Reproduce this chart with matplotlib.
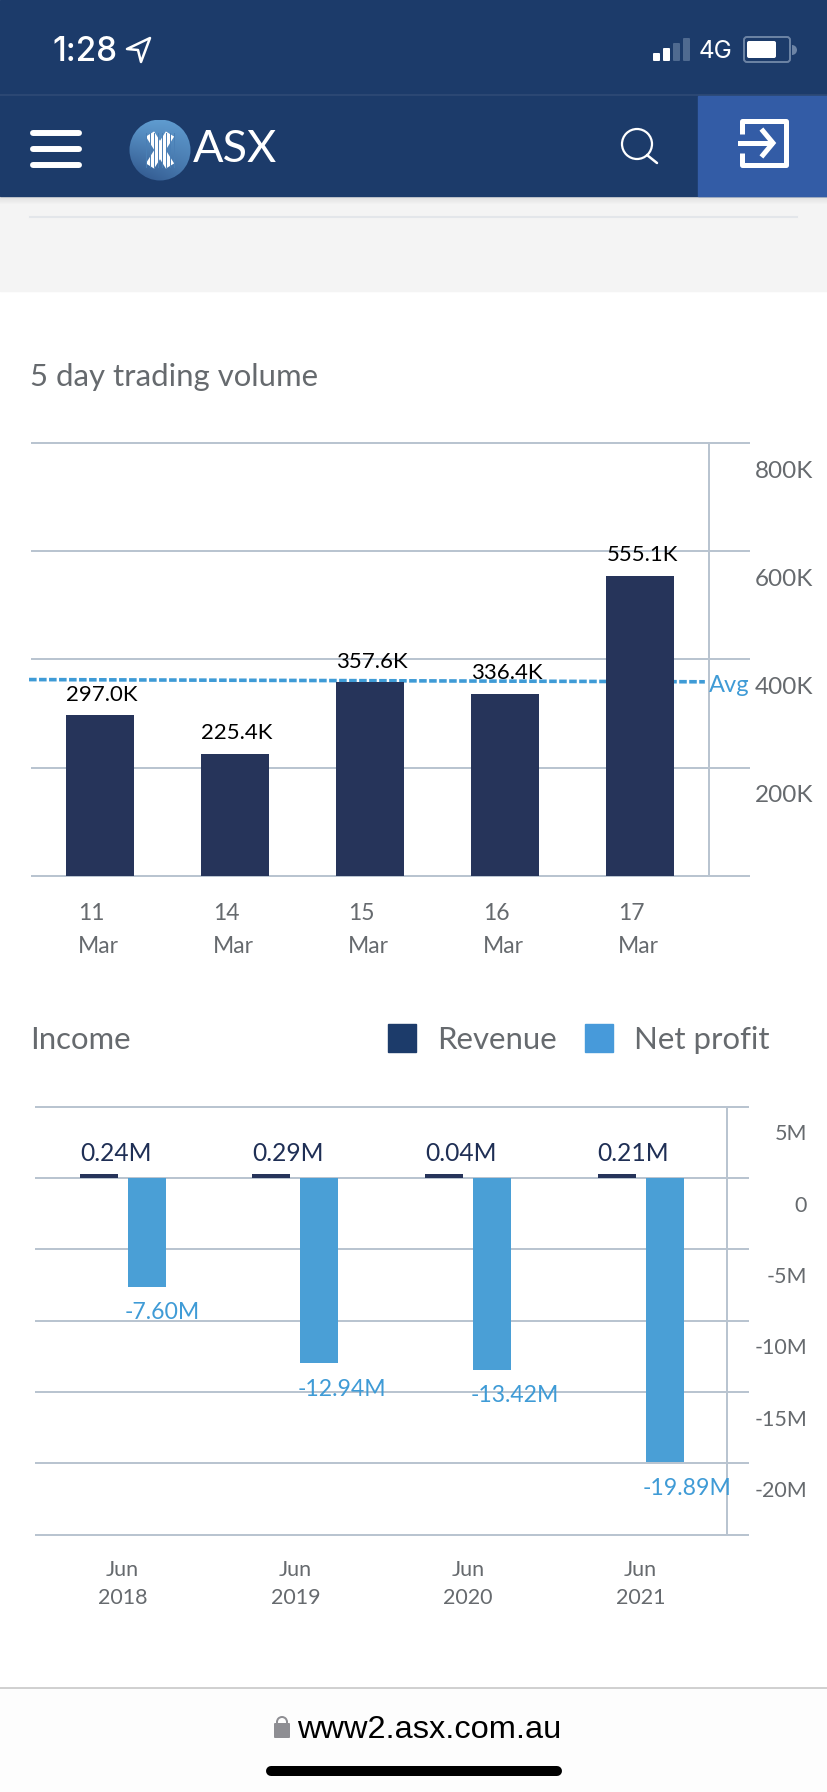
import numpy as np
import matplotlib
matplotlib.use('Agg')
import matplotlib.pyplot as plt
from matplotlib.patches import Rectangle, Circle, FancyBboxPatch, Polygon, Wedge
from matplotlib.transforms import ScaledTranslation

plt.rcParams['font.family'] = ['Lato', 'DejaVu Sans']

# 5 day trading volume
vol_days = ['11\nMar', '14\nMar', '15\nMar', '16\nMar', '17\nMar']
vol_values = [297.0, 225.4, 357.6, 336.4, 555.1]
vol_labels = ['297.0K', '225.4K', '357.6K', '336.4K', '555.1K']
vol_ticks = [0, 200, 400, 600, 800]
vol_ticklabels = ['', '200K', '400K', '600K', '800K']
avg_line = [362.9, 358.8]

# Income
income_years = ['Jun\n2018', 'Jun\n2019', 'Jun\n2020', 'Jun\n2021']
revenue = [0.24, 0.29, 0.04, 0.21]
net_profit = [-7.60, -12.94, -13.42, -19.89]
revenue_labels = ['0.24M', '0.29M', '0.04M', '0.21M']
profit_labels = ['-7.60M', '-12.94M', '-13.42M', '-19.89M']
income_ticks = [5, 0, -5, -10, -15, -20, -25]
income_ticklabels = ['5M', '0', '-5M', '-10M', '-15M', '-20M', '']

W, H = 828, 1792
NAVY = '#1c3b6a'
BAR_DARK = '#26345a'
BLUE = '#4a9fd6'
GRID = '#b9c4d0'
GREY = '#666a6e'
LW = 1.44  # 2px

fig = plt.figure(figsize=(W / 100, H / 100), dpi=100, facecolor='white')


def px_axes(left, top, right, bottom, **kw):
    return fig.add_axes([left / W, 1 - bottom / H, (right - left) / W, (bottom - top) / H], **kw)


def px_shift(dx, dy):
    return ScaledTranslation(dx / 100, -dy / 100, fig.dpi_scale_trans)


# page furniture, drawn in pixel coordinates
bg = px_axes(0, 0, W, H)
bg.set_xlim(0, W)
bg.set_ylim(H, 0)
bg.axis('off')

bg.add_patch(Rectangle((0, 0), W, 196, color=NAVY, zorder=3))
bg.plot([0, W], [95.5, 95.5], color='#2f4a75', lw=1.2, zorder=4)
bg.add_patch(Rectangle((698, 96), W - 698, 100, color='#335ca6', zorder=4))
bg.add_patch(Rectangle((0, 196), W, 95, color='#f4f4f4', zorder=1))
for i in range(8):
    bg.add_patch(Rectangle((0, 196 + i), W, 1, color='#000000', alpha=0.09 * (1 - i / 8), lw=0, zorder=2))
bg.plot([30, 797], [216.7, 216.7], color='#e3e6ea', lw=1.5, zorder=2)

# status bar
bg.text(52, 52, '1:28', color='white', fontsize=24, family='Inter', weight='medium', va='center', zorder=5)
bg.add_patch(Polygon([[127, 49], [150, 38], [141, 62], [138, 50]], closed=True, fc='none', ec='white', lw=1.8,
                     joinstyle='round', zorder=5))
for x0, top, col in zip([653, 663, 673, 683], [53, 48, 43, 38], ['white', 'white', '#4f6a90', '#4f6a90']):
    bg.add_patch(FancyBboxPatch((x0 + 1, top + 1), 5, 59 - top, boxstyle='round,pad=1', fc=col, ec='none', zorder=5))
bg.text(699, 52, '4G', color='white', fontsize=17.5, family='Inter', va='center', zorder=5)
bg.add_patch(FancyBboxPatch((747, 40), 40, 19, boxstyle='round,pad=3', fc='none', ec='#6d84a5', lw=1.4, zorder=5))
bg.add_patch(FancyBboxPatch((749, 43), 25, 13, boxstyle='round,pad=2', fc='white', ec='none', zorder=5))
bg.add_patch(Wedge((792, 50), 5, -90, 90, fc='#6d84a5', ec='none', zorder=5))

# nav bar
for y in [133, 149, 165]:
    bg.plot([33.5, 79], [y, y], color='white', lw=4.3, solid_capstyle='round', zorder=5)

grad = np.linspace(0, 1, 64)[:, None] * np.linspace(1, 0.55, 64)[None, :]
logo = bg.imshow(grad, extent=(129, 191, 181, 120), cmap=matplotlib.colors.LinearSegmentedColormap.from_list(
    'logo', ['#5f9bcf', '#2d5288']), aspect='auto', zorder=5)
logo.set_clip_path(Circle((160, 150), 30.5, transform=bg.transData))
bg.set_xlim(0, W)
bg.set_ylim(H, 0)
bg.plot([150, 170], [134, 166], color='white', lw=7, solid_capstyle='butt', zorder=6)
bg.plot([170, 150], [134, 166], color='white', lw=7, solid_capstyle='butt', zorder=6)
for x0 in range(146, 178, 4):
    bg.plot([x0, x0], [133, 167], color='#4a7fb5', lw=0.7, zorder=7)
bg.text(193, 150, 'ASX', color='white', fontsize=32.5, va='center', zorder=5)

bg.add_patch(Circle((637, 144), 15, fc='none', ec='white', lw=1.6, zorder=5))
bg.plot([647, 657], [155, 163], color='white', lw=1.8, solid_capstyle='round', zorder=5)

bg.plot([742, 742, 786, 786, 742, 742], [134, 121, 121, 165, 165, 153], color='white', lw=3.6,
        solid_joinstyle='round', solid_capstyle='butt', zorder=5)
bg.plot([740, 771], [143, 143], color='white', lw=3.6, zorder=5)
bg.plot([763, 773, 763], [131, 143, 155], color='white', lw=3.6, solid_joinstyle='miter', zorder=5)

# titles and legend
bg.text(30, 377, '5 day trading volume', color=GREY, fontsize=22.4, va='center')
bg.text(30, 1040, 'Income', color=GREY, fontsize=22.4, va='center')
bg.add_patch(Rectangle((388, 1024), 28, 28, color=NAVY))
bg.text(437, 1040, 'Revenue', color=GREY, fontsize=22.4, va='center')
bg.add_patch(Rectangle((585, 1024), 28, 28, color='#479ada'))
bg.text(634, 1040, 'Net profit', color=GREY, fontsize=22.4, va='center')

# browser footer
bg.add_patch(Rectangle((0, 1688), W, H - 1688, color='#fdfdfd', zorder=0))
bg.plot([0, W], [1688, 1688], color='#c8c8c8', lw=1.2)
bg.add_patch(FancyBboxPatch((275, 1724), 14, 13, boxstyle='round,pad=1', fc='#8e8e93', ec='none'))
bg.add_patch(Wedge((282, 1722), 6, 180, 360, width=2, fc='#8e8e93', ec='none'))
bg.plot([276.9, 276.9], [1722, 1725], color='#8e8e93', lw=1.4)
bg.plot([287.1, 287.1], [1722, 1725], color='#8e8e93', lw=1.4)
bg.text(297, 1738, 'www2.asx.com.au', color='black', fontsize=23.4, family='Liberation Sans', va='baseline')
bg.plot([271, 557], [1771, 1771], color='black', lw=7.2, solid_capstyle='round')

# trading volume chart
ax = px_axes(32, 443, 749, 876, facecolor='none')
x = np.arange(len(vol_values))
ax.set_xlim(-0.504, 4.807)
ax.set_ylim(0, 800)
for s in ax.spines.values():
    s.set_visible(False)
ax.set_axisbelow(True)
ax.yaxis.grid(True, color=GRID, lw=LW)
for g in ax.get_ygridlines():
    g.set_clip_on(False)
ax.axvline(4.511, color=GRID, lw=LW, zorder=1)
ax.plot([-0.526, 4.48], avg_line, color='#3f9bd6', lw=2.6, ls=(0, (2.1, 0.67)), clip_on=False, zorder=1.5)
ax.bar(x, vol_values, width=0.5, color=BAR_DARK, zorder=2)
for xi, val, lab in zip(x, vol_values, vol_labels):
    ax.annotate(lab, (xi, val), xytext=(1.5, 14.8), textcoords='offset points', ha='center', va='center',
                color='black', fontsize=16, zorder=3)
ax.text(709, 686, 'Avg', transform=bg.transData, color='#3f9bd6', fontsize=17, va='center')

ax.yaxis.tick_right()
ax.set_yticks(vol_ticks)
ax.set_yticklabels(vol_ticklabels, color=GREY, fontsize=17.5)
ax.set_xticks(x)
ax.set_xticklabels(vol_days, color=GREY, fontsize=16.5, ha='left', linespacing=1.72)
ax.tick_params(length=0)
ax.tick_params(axis='y', pad=4.3)
ax.tick_params(axis='x', pad=19.5)
for lab in ax.get_yticklabels():
    lab.set_transform(lab.get_transform() + px_shift(0, 26))
for lab in ax.get_xticklabels():
    lab.set_transform(lab.get_transform() + px_shift(-22, 0))

# income chart
ax2 = px_axes(36, 1106.7, 747.6, 1534.8, facecolor='none')
xi = np.arange(len(revenue))
bar_w = 0.22
shift = 0.139
ax2.set_xlim(-0.5025, 3.62)
ax2.set_ylim(-25, 5)
for s in ax2.spines.values():
    s.set_visible(False)
ax2.set_axisbelow(True)
ax2.yaxis.grid(True, color=GRID, lw=LW)
for g in ax2.get_ygridlines():
    g.set_clip_on(False)
ax2.axvline(3.5, color=GRID, lw=LW, zorder=1)
# small revenue values still get a visible sliver, as on the site
ax2.bar(xi - shift, np.maximum(revenue, 0.28), width=bar_w, color=BAR_DARK, zorder=2)
ax2.bar(xi + shift, net_profit, width=bar_w, color=BLUE, zorder=2)
for i in xi:
    ax2.annotate(revenue_labels[i], (i - shift - bar_w / 2, 0), xytext=(0, 18), textcoords='offset points',
                 ha='left', va='center', color='#1f2f55', fontsize=17.7, zorder=3)
    ax2.annotate(profit_labels[i], (i + shift - bar_w / 2, net_profit[i]), xytext=(-2, -19),
                 textcoords='offset points', ha='left', va='center', color='#3f9bd6', fontsize=16.6, zorder=3)

ax2.yaxis.tick_right()
ax2.set_yticks(income_ticks)
ax2.set_yticklabels(income_ticklabels, color=GREY, fontsize=15.5, ha='right')
ax2.set_xticks(xi)
ax2.set_xticklabels(income_years, color=GREY, fontsize=15.5, linespacing=1.54)
ax2.tick_params(length=0)
ax2.tick_params(axis='y', pad=42.8)
ax2.tick_params(axis='x', pad=18)
for lab in ax2.get_yticklabels():
    lab.set_transform(lab.get_transform() + px_shift(0, 25.5))

fig.savefig('out.png', dpi=100)
